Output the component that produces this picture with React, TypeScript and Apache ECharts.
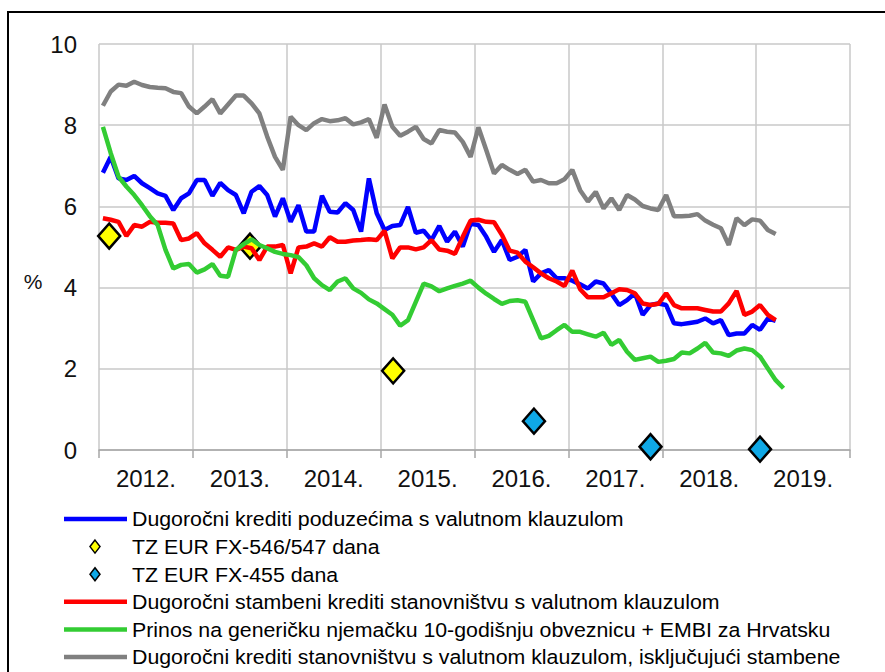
import React, { useEffect, useRef } from "react";
import * as echarts from "echarts";

// Year labels (one per year interval on the x axis)
const yearLabels = ["2012.", "2013.", "2014.", "2015.", "2016.", "2017.", "2018.", "2019."];
const yTicks = [0, 2, 4, 6, 8, 10];

// Monthly series, starting January 2012
const corporateLoans = [
  6.83, 7.22, 6.69, 6.65, 6.75, 6.57, 6.45, 6.32, 6.26, 5.91,
  6.2, 6.32, 6.65, 6.65, 6.26, 6.58, 6.4, 6.28, 5.83, 6.36,
  6.5, 6.28, 5.75, 6.2, 5.62, 6.03, 5.38, 5.38, 6.26, 5.87,
  5.85, 6.08, 5.91, 5.38, 6.69, 5.83, 5.42, 5.52, 5.54, 5.99,
  5.35, 5.4, 5.17, 5.52, 5.13, 5.38, 5.01, 5.57, 5.54, 5.25,
  4.88, 5.17, 4.68, 4.76, 4.93, 4.15, 4.35, 4.43, 4.23, 4.23,
  4.17, 4.08, 3.98, 4.15, 4.1, 3.85, 3.57, 3.69, 3.86, 3.33,
  3.57, 3.61, 3.57, 3.12, 3.1, 3.13, 3.16, 3.24, 3.12, 3.2,
  2.83, 2.87, 2.87, 3.08, 2.96, 3.24, 3.18,
];
const housingLoans = [
  5.71, 5.67, 5.62, 5.27, 5.54, 5.5, 5.62, 5.6, 5.6, 5.58,
  5.17, 5.21, 5.34, 5.09, 4.93, 4.76, 4.99, 4.93, 5.01, 4.97,
  4.68, 5.01, 5.01, 5.05, 4.35, 4.99, 5.01, 5.09, 5.01, 5.24,
  5.13, 5.13, 5.16, 5.17, 5.19, 5.17, 5.4, 4.72, 4.99, 4.99,
  4.94, 4.99, 5.17, 4.94, 4.91, 4.83, 5.25, 5.65, 5.67, 5.62,
  5.61, 5.3, 4.91, 4.86, 4.64, 4.5, 4.35, 4.23, 4.15, 4.04,
  4.42, 3.96, 3.76, 3.76, 3.76, 3.86, 3.96, 3.94, 3.86, 3.61,
  3.57, 3.6, 3.86, 3.57, 3.49, 3.49, 3.49, 3.45, 3.41, 3.41,
  3.61, 3.92, 3.33, 3.41, 3.57, 3.33, 3.2,
];
const bondYieldEmbi = [
  7.96, 7.31, 6.73, 6.49, 6.28, 6.03, 5.76, 5.54, 4.93, 4.47,
  4.56, 4.58, 4.37, 4.45, 4.58, 4.29, 4.27, 4.93, 5.07, 5.19,
  5.05, 4.97, 4.88, 4.83, 4.8, 4.75, 4.55, 4.23, 4.06, 3.94,
  4.15, 4.23, 3.98, 3.87, 3.71, 3.61, 3.47, 3.33, 3.06, 3.2,
  3.65, 4.1, 4.03, 3.91, 3.98, 4.04, 4.1, 4.17, 4.0, 3.85,
  3.72, 3.6, 3.67, 3.69, 3.65, 3.2, 2.75, 2.81, 2.95, 3.08,
  2.91, 2.91, 2.85, 2.79, 2.89, 2.59, 2.71, 2.42, 2.22, 2.26,
  2.3, 2.17, 2.2, 2.24, 2.4, 2.38, 2.5, 2.64, 2.4, 2.38,
  2.32, 2.45, 2.5, 2.46, 2.3, 2.01, 1.72, 1.52,
];
const householdLoans = [
  8.48, 8.83, 9.0, 8.97, 9.07, 8.99, 8.94, 8.92, 8.91, 8.82,
  8.79, 8.46, 8.29, 8.46, 8.64, 8.29, 8.51, 8.73, 8.73, 8.54,
  8.29, 7.72, 7.22, 6.9, 8.21, 8.0, 7.88, 8.05, 8.15, 8.1,
  8.12, 8.17, 8.02, 8.07, 8.15, 7.69, 8.51, 7.96, 7.74, 7.84,
  7.96, 7.66, 7.55, 7.88, 7.84, 7.82, 7.59, 7.22, 7.95, 7.39,
  6.81, 7.02, 6.9, 6.8, 6.9, 6.61, 6.65, 6.57, 6.57, 6.67,
  6.9, 6.4, 6.12, 6.36, 5.95, 6.2, 5.91, 6.28, 6.17, 6.01,
  5.95, 5.91, 6.28, 5.76, 5.76, 5.77, 5.81, 5.65, 5.55, 5.46,
  5.05, 5.71, 5.54, 5.68, 5.65, 5.42, 5.32,
];

// Treasury bill auctions: position in months since Jan 2012, and yield
const tz546Month = [1.3, 19.3, 37.6];
const tz546Value = [5.27, 5.02, 1.95];
const tz455Month = [55.6, 70.5, 84.5];
const tz455Value = [0.71, 0.08, 0.02];

const NAME_BLUE = "Dugoročni krediti poduzećima s valutnom klauzulom";
const NAME_YEL = "TZ EUR FX-546/547 dana";
const NAME_CYAN = "TZ EUR FX-455 dana";
const NAME_RED = "Dugoročni stambeni krediti stanovništvu s valutnom klauzulom";
const NAME_GREEN = "Prinos na generičku njemačku 10-godišnju obveznicu + EMBI za Hrvatsku";
const NAME_GRAY = "Dugoročni krediti stanovništvu s valutnom klauzulom, isključujući stambene";

const C_BLUE = "#0000FF";
const C_RED = "#FF0000";
const C_GREEN = "#33CC33";
const C_GRAY = "#808080";
const C_YEL = "#FFFF00";
const C_CYAN = "#0FA8E6";

const FONT = '"Liberation Sans", Arial, sans-serif';

const legendItems = [
  { name: NAME_BLUE, color: C_BLUE, kind: "line" },
  { name: NAME_YEL, color: C_YEL, kind: "diamond" },
  { name: NAME_CYAN, color: C_CYAN, kind: "diamond" },
  { name: NAME_RED, color: C_RED, kind: "line" },
  { name: NAME_GREEN, color: C_GREEN, kind: "line" },
  { name: NAME_GRAY, color: C_GRAY, kind: "line" },
];

const toMonthly = (arr: number[]) => arr.map((v, i) => [i + 0.5, v]);
const toPoints = (m: number[], v: number[]) => m.map((x, i) => [x, v[i]]);

export default function App() {
  const ref = useRef<HTMLDivElement>(null);
  useEffect(() => {
    if (!ref.current) return;
    const chart = echarts.init(ref.current, null, { renderer: "svg" });

    const legendGraphics: any[] = [];
    legendItems.forEach((it, k) => {
      const y = 519 + k * 27.6;
      if (it.kind === "line") {
        legendGraphics.push({
          type: "line",
          shape: { x1: 64, y1: y, x2: 127, y2: y },
          style: { stroke: it.color, lineWidth: 4.5 },
          silent: true,
        });
      } else {
        legendGraphics.push({
          type: "polygon",
          shape: { points: [[95, y - 6.5], [100, y], [95, y + 6.5], [90, y]] },
          style: { fill: it.color, stroke: "#000", lineWidth: 1.5 },
          silent: true,
        });
      }
      legendGraphics.push({
        type: "text",
        x: 132,
        y: y,
        scaleX: 1.04,
        style: {
          text: it.name,
          fill: "#000",
          fontSize: 20.5,
          fontFamily: FONT,
          verticalAlign: "middle",
          align: "left",
        },
        silent: true,
      });
    });

    const option: any = {
      animation: false,
      backgroundColor: "#fff",
      grid: { left: 99, right: 35, top: 44, bottom: 222, containLabel: false },
      xAxis: [
        {
          type: "value",
          min: 0,
          max: 96,
          interval: 12,
          axisLine: { show: false },
          axisTick: { show: false },
          axisLabel: { show: false },
          splitLine: { show: true, lineStyle: { color: "#C8C8C8", width: 1.5 } },
        },
        {
          type: "category",
          position: "bottom",
          data: yearLabels,
          boundaryGap: true,
          axisLine: { show: true, lineStyle: { color: "#A6A6A6", width: 1.5 } },
          axisTick: { show: true, interval: 0, length: 8, lineStyle: { color: "#A6A6A6", width: 1.5 } },
          axisLabel: { fontSize: 24, color: "#111", margin: 16, fontFamily: FONT },
          splitLine: { show: false },
        },
      ],
      yAxis: {
        type: "value",
        min: yTicks[0],
        max: yTicks[yTicks.length - 1],
        interval: 2,
        axisLine: { show: false },
        axisTick: { show: false },
        axisLabel: { fontSize: 24, color: "#111", margin: 22, fontFamily: FONT },
        splitLine: { show: true, lineStyle: { color: "#C8C8C8", width: 1.5 } },
      },
      series: [
        {
          name: NAME_YEL,
          type: "scatter",
          xAxisIndex: 0,
          data: toPoints(tz546Month, tz546Value),
          symbol: "diamond",
          symbolSize: [22, 25],
          itemStyle: { color: C_YEL, borderColor: "#000", borderWidth: 2.5, opacity: 1 },
          z: 1,
        },
        {
          name: NAME_CYAN,
          type: "scatter",
          xAxisIndex: 0,
          data: toPoints(tz455Month, tz455Value),
          symbol: "diamond",
          symbolSize: [22, 25],
          itemStyle: { color: C_CYAN, borderColor: "#000", borderWidth: 2.5, opacity: 1 },
          z: 1,
        },
        {
          name: NAME_BLUE,
          type: "line",
          xAxisIndex: 0,
          data: toMonthly(corporateLoans),
          symbol: "none",
          lineStyle: { color: C_BLUE, width: 4.5 },
          itemStyle: { color: C_BLUE },
          z: 2,
        },
        {
          name: NAME_RED,
          type: "line",
          xAxisIndex: 0,
          data: toMonthly(housingLoans),
          symbol: "none",
          lineStyle: { color: C_RED, width: 4.5 },
          itemStyle: { color: C_RED },
          z: 3,
        },
        {
          name: NAME_GREEN,
          type: "line",
          xAxisIndex: 0,
          data: toMonthly(bondYieldEmbi),
          symbol: "none",
          lineStyle: { color: C_GREEN, width: 4.5 },
          itemStyle: { color: C_GREEN },
          z: 4,
        },
        {
          name: NAME_GRAY,
          type: "line",
          xAxisIndex: 0,
          data: toMonthly(householdLoans),
          symbol: "none",
          lineStyle: { color: C_GRAY, width: 4.5 },
          itemStyle: { color: C_GRAY },
          z: 5,
        },
      ],
      graphic: [
        {
          type: "rect",
          shape: { x: 8, y: 12, width: 900, height: 700 },
          style: { fill: "none", stroke: "#000", lineWidth: 2 },
          silent: true,
          z: 100,
        },
        {
          type: "text",
          x: 33,
          y: 281,
          style: {
            text: "%",
            fill: "#111",
            fontSize: 21,
            fontFamily: FONT,
            align: "center",
            verticalAlign: "middle",
          },
          silent: true,
        },
        ...legendGraphics,
      ],
    };
    chart.setOption(option);
    return () => chart.dispose();
  }, []);

  return (
    <div
      ref={ref}
      style={{ position: "fixed", left: 0, top: 0, width: 885, height: 672, background: "#fff" }}
    />
  );
}
